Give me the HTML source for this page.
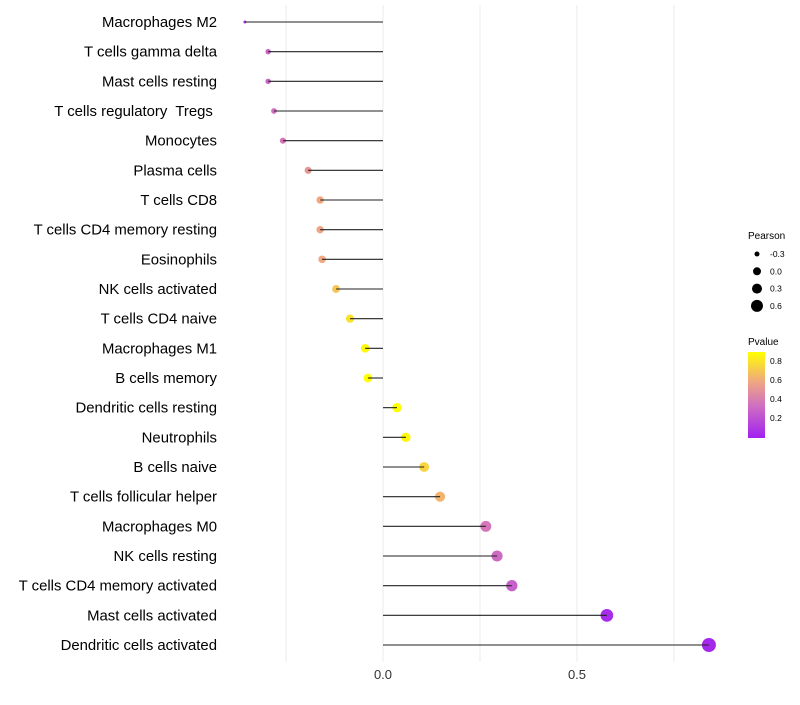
<!DOCTYPE html>
<html><head><meta charset="utf-8"><style>
body{margin:0;background:#fff;font-family:"Liberation Sans",sans-serif}
</style></head><body>
<svg id="chart" width="800" height="700" xmlns="http://www.w3.org/2000/svg" font-family="Liberation Sans, sans-serif">
<defs><linearGradient id="pg" x1="0" y1="1" x2="0" y2="0">
<stop offset="0" stop-color="#A020F0"/><stop offset="0.38" stop-color="#D070C0"/><stop offset="0.66" stop-color="#F0A880"/><stop offset="1" stop-color="#FFFF00"/>
</linearGradient></defs>
<g id="grid"></g><g id="points"></g><g id="marks"></g><g id="labels"></g>
<g>
<text x="748" y="239" font-size="10">Pearson</text>
<g id="sizeLegend"></g>
<text x="748" y="345" font-size="10">Pvalue</text>
<rect x="748" y="352" width="17" height="86" fill="url(#pg)"/>
<g id="colorTicks"></g>
</g>
</svg>
<script>
const categories=["Macrophages M2","T cells gamma delta","Mast cells resting","T cells regulatory  Tregs ","Monocytes","Plasma cells","T cells CD8","T cells CD4 memory resting","Eosinophils","NK cells activated","T cells CD4 naive","Macrophages M1","B cells memory","Dendritic cells resting","Neutrophils","B cells naive","T cells follicular helper","Macrophages M0","NK cells resting","T cells CD4 memory activated","Mast cells activated","Dendritic cells activated"];
const pearson=[-0.356,-0.296,-0.296,-0.281,-0.258,-0.193,-0.162,-0.162,-0.157,-0.121,-0.085,-0.046,-0.039,0.036,0.059,0.106,0.147,0.265,0.294,0.332,0.577,0.840];
const pvalue=[0.1,0.3,0.3,0.33,0.37,0.52,0.6,0.58,0.6,0.7,0.8,0.88,0.9,0.9,0.87,0.75,0.64,0.37,0.32,0.27,0.05,0.03];
const xTicks=[0,0.5];
const xGrid=[-0.25,0.25,0.75];
const sizeLegend=[-0.3,0,0.3,0.6];
const colorTicks=[0.2,0.4,0.6,0.8];
const NS="http://www.w3.org/2000/svg";
const xs=v=>383+v*388;
const ys=i=>22+i*(623/21);
const rs=p=>1.5+Math.sqrt(Math.max(0,(p+0.356)/1.196))*5.5;
const stops=[[0,[160,32,240]],[0.34,[208,112,192]],[0.6,[240,168,128]],[0.9,[255,255,0]]];
function col(p){if(p<=stops[0][0])return `rgb(${stops[0][1]})`;for(let k=1;k<stops.length;k++){if(p<=stops[k][0]){const a=stops[k-1],b=stops[k],t=(p-a[0])/(b[0]-a[0]);return `rgb(${a[1].map((c,j)=>Math.round(c+(b[1][j]-c)*t))})`;}}return "rgb(255,255,0)";}
function mk(tag,attrs,parent,text){const e=document.createElementNS(NS,tag);for(const k in attrs)e.setAttribute(k,attrs[k]);if(text!=null)e.textContent=text;document.getElementById(parent).appendChild(e);return e;}
xGrid.concat(xTicks).forEach(v=>{const g=mk('line',{x1:xs(v),x2:xs(v),y1:5,y2:662,stroke:'#ebebeb','stroke-width':1},'grid');

});
xTicks.forEach(v=>{const t=mk('text',{x:xs(v),y:679,'font-size':13,'text-anchor':'middle',fill:'#333'},'labels',v.toFixed(1));

});
categories.forEach((c,i)=>{const y=ys(i);
const d=mk('circle',{cx:xs(pearson[i]),cy:y,r:rs(pearson[i]),fill:col(pvalue[i])},'points');


const l=mk('line',{x1:xs(0),x2:xs(pearson[i]),y1:y,y2:y,stroke:'#222','stroke-width':1.1},'marks');


const t=mk('text',{x:217,y:y+5,'font-size':14.9,'text-anchor':'end',fill:'#000'},'labels',c);
t.setAttribute('style','white-space:pre');

});
sizeLegend.forEach((p,i)=>{const y=254+i*17.3;
const d=mk('circle',{cx:757,cy:y,r:[2.5,4,5,6][i],fill:'#000'},'sizeLegend');


const t=mk('text',{x:770,y:y+3,'font-size':8.5},'sizeLegend',p.toFixed(1));

});
colorTicks.forEach(p=>{const y=437-p*95;
const t=mk('text',{x:770,y:y+3,'font-size':8.5},'colorTicks',p.toFixed(1));

});
</script>
</body></html>
